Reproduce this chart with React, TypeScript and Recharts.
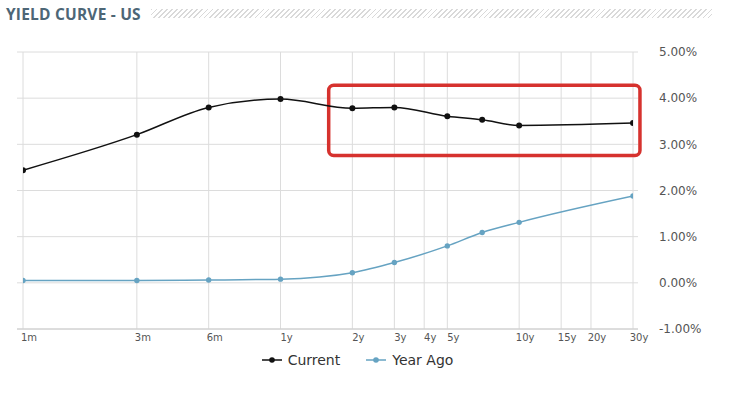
import React from 'react';
import { LineChart, Line, XAxis, YAxis, CartesianGrid, Legend, ReferenceArea } from 'recharts';

// maturities in months (the x axis is a log scale of months)
const maturities = [1, 3, 6, 12, 24, 36, 60, 84, 120, 360];
const currentYield = [2.44, 3.21, 3.8, 3.98, 3.78, 3.8, 3.61, 3.53, 3.41, 3.46];
const yearAgoYield = [0.05, 0.05, 0.06, 0.08, 0.22, 0.44, 0.8, 1.09, 1.31, 1.88];

const xTicks = [1, 3, 6, 12, 24, 36, 48, 60, 120, 180, 240, 360];
const xTickLabels = ['1m', '3m', '6m', '1y', '2y', '3y', '4y', '5y', '10y', '15y', '20y', '30y'];
const yTicks = [-1, 0, 1, 2, 3, 4, 5];

// highlighted region (data units)
const boxMonths = [19.1, 385];
const boxYield = [2.76, 4.28];

const CURRENT_COLOR = '#111111';
const YEAR_AGO_COLOR = '#66a3c2';

const data = maturities.map((m, i) => ({
    months: m,
    current: currentYield[i],
    yearAgo: yearAgoYield[i],
}));

const legendItems = [
    { name: 'Current', color: CURRENT_COLOR },
    { name: 'Year Ago', color: YEAR_AGO_COLOR },
];

const LegendContent = () => (
    <div style={{ display: 'flex', justifyContent: 'center', gap: 26, paddingRight: 25, paddingTop: 3, fontFamily: 'DejaVu Sans', fontSize: 14, color: '#333' }}>
        {legendItems.map(item => (
            <div key={item.name} style={{ display: 'flex', alignItems: 'center', gap: 6 }}>
                <svg width={20} height={10}>
                    <line x1={0} y1={5} x2={20} y2={5} stroke={item.color} strokeWidth={1.5} />
                    <circle cx={10} cy={5} r={2.8} fill={item.color} />
                </svg>
                <span>{item.name}</span>
            </div>
        ))}
    </div>
);

const App: React.FC = () => {
    return (
        <div style={{ position: 'absolute', left: 0, top: 0, width: 740, height: 393, background: '#fff', overflow: 'hidden' }}>
            {/* Header */}
            <div style={{ position: 'absolute', left: 6, top: 3, fontFamily: 'Open Sans', fontWeight: 700, fontSize: 15.5, letterSpacing: 0.2, color: '#4d6676', whiteSpace: 'nowrap' }}>
                YIELD CURVE - US
            </div>
            <div style={{
                position: 'absolute', left: 151, top: 9, width: 561, height: 9,
                background: 'repeating-linear-gradient(135deg, #d9d9d9 0px, #d9d9d9 1.3px, transparent 1.3px, transparent 3.6px)',
            }} />

            <div style={{ position: 'absolute', left: 0, top: 0 }}>
                <LineChart width={740} height={393} data={data} margin={{ top: 52, right: 14, bottom: 20, left: 17 }}>
                    <CartesianGrid stroke="#dcdcdc" strokeWidth={1} syncWithTicks />
                    <XAxis
                        dataKey="months"
                        type="number"
                        scale="log"
                        domain={[1, 360]}
                        ticks={xTicks}
                        tickFormatter={(v: number) => xTickLabels[xTicks.indexOf(v)] ?? ''}
                        padding={{ left: 6, right: 5 }}
                        height={20}
                        tickLine={false}
                        tickSize={0}
                        tickMargin={5}
                        axisLine={{ stroke: '#cccccc' }}
                        tick={{ fontSize: 10, fill: '#555', fontFamily: 'DejaVu Sans', dx: 6 }}
                        interval={0}
                        allowDataOverflow
                    />
                    <YAxis
                        orientation="right"
                        type="number"
                        domain={[-1, 5]}
                        ticks={yTicks}
                        tickFormatter={(v: number) => `${v.toFixed(2)}%`}
                        width={88}
                        axisLine={false}
                        tickLine={false}
                        tickSize={0}
                        tickMargin={21}
                        tick={{ fontSize: 12, fill: '#555', fontFamily: 'DejaVu Sans', textAnchor: 'start' }}
                        interval={0}
                    />
                    <Legend verticalAlign="bottom" height={24} content={<LegendContent />} wrapperStyle={{ left: 0, width: 740 }} />
                    <Line
                        type="monotone"
                        dataKey="yearAgo"
                        name="Year Ago"
                        stroke={YEAR_AGO_COLOR}
                        strokeWidth={1.5}
                        dot={{ r: 2.7, fill: YEAR_AGO_COLOR, stroke: YEAR_AGO_COLOR, strokeWidth: 0 }}
                        isAnimationActive={false}
                    />
                    <Line
                        type="monotone"
                        dataKey="current"
                        name="Current"
                        stroke={CURRENT_COLOR}
                        strokeWidth={1.5}
                        dot={{ r: 3, fill: CURRENT_COLOR, stroke: CURRENT_COLOR, strokeWidth: 0 }}
                        isAnimationActive={false}
                    />
                    <ReferenceArea
                        x1={boxMonths[0]}
                        x2={boxMonths[1]}
                        y1={boxYield[0]}
                        y2={boxYield[1]}
                        fill="none"
                        fillOpacity={0}
                        stroke="#d6322e"
                        strokeWidth={3.5}
                        radius={5}
                        ifOverflow="visible"
                    />
                </LineChart>
            </div>
        </div>
    );
};

export default App;
